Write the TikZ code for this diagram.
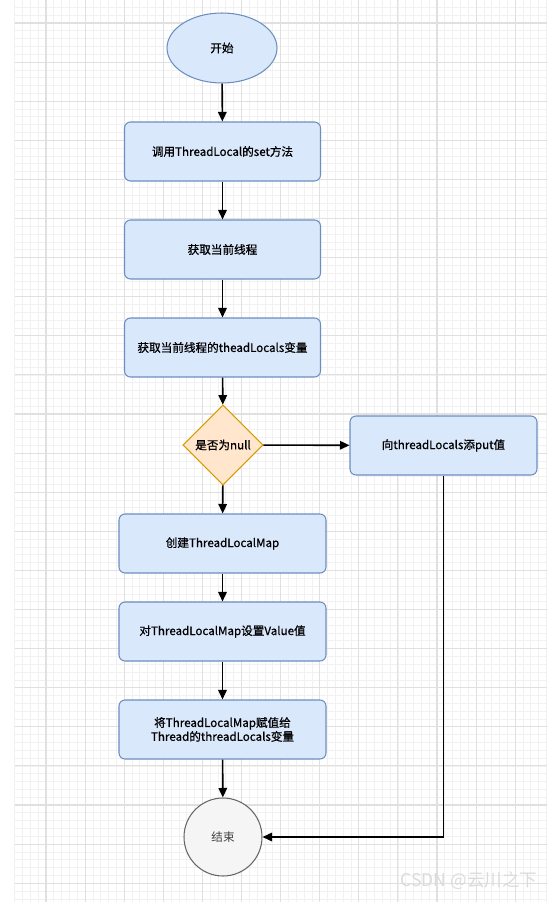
\documentclass[tikz,border=0pt]{standalone}
\usepackage{fontspec}
\setmainfont{Noto Sans CJK SC}
\newfontfamily\boxfont[FakeBold=0.8]{Noto Sans CJK SC}
\usetikzlibrary{shapes.geometric,arrows.meta}

\definecolor{boxfill}{HTML}{DAE8FC}
\definecolor{boxline}{HTML}{6C8EBF}
\definecolor{decfill}{HTML}{FFE6CC}
\definecolor{decline}{HTML}{D79B00}
\definecolor{endfill}{HTML}{F5F5F5}
\definecolor{endline}{HTML}{666666}
\definecolor{gridminor}{HTML}{F1F1F1}
\definecolor{gridmajor}{HTML}{E0E0E0}

\tikzset{
	flowtext/.style={font=\boxfont\fontsize{6.6pt}{7.9pt}\selectfont, align=center, text=black},
	proc/.style={flowtext, rectangle, rounded corners=0.12cm, draw=boxline, fill=boxfill, line width=0.6pt, minimum height=1.18cm},
	startnode/.style={flowtext, ellipse, draw=boxline, fill=boxfill, line width=0.6pt, minimum width=2.2cm, minimum height=1.4cm, inner sep=0pt},
	decide/.style={flowtext, diamond, draw=decline, fill=decfill, line width=0.6pt, minimum width=1.6cm, minimum height=1.6cm, inner sep=0pt},
	endnode/.style={circle, draw=endline, fill=endfill, line width=0.6pt, minimum size=1.56cm, text=black!75, font=\fontsize{6.6pt}{7.9pt}\selectfont},
	flow/.style={-{Triangle[length=0.19cm,width=0.17cm]}, line width=0.9pt},
}

\begin{document}
\begin{tikzpicture}[x=0.02cm, y=-0.02cm]
			\useasboundingbox (0,0) rectangle (560,902);
			\fill[white] (0,0) rectangle (560,902);
			
			% background grid
			\foreach \i in {0,...,68}
				\draw[gridminor, line width=0.4pt] ({14.7+7.82*\i},0) -- ({14.7+7.82*\i},902);
			\foreach \j in {0,...,114}
				\draw[gridminor, line width=0.4pt] (14.7,{7.36+7.82*\j}) -- (547,{7.36+7.82*\j});
			\foreach \i in {0,...,12}
				\draw[gridmajor, line width=0.6pt] ({46+39.1*\i},0) -- ({46+39.1*\i},902);
			\foreach \j in {0,...,22}
				\draw[gridmajor, line width=0.6pt] (14.7,{23+39.1*\j}) -- (547,{23+39.1*\j});
			
			% flow nodes
			\node[startnode] (start) at (222,48) {开始};
			\node[proc, minimum width=3.92cm] (callset) at (222.5,151.5) {调用ThreadLocal的set方法};
			\node[proc, minimum width=3.92cm] (getthread) at (222.5,249.5) {获取当前线程};
			\node[proc, minimum width=3.92cm] (getlocals) at (222.5,347.5) {获取当前线程的theadLocals变量};
			\node[decide] (isnull) at (223,445) {是否为null};
			\node[proc, minimum width=3.74cm] (putvalue) at (443.5,445.5) {向threadLocals添put值};
			\node[proc, minimum width=4.14cm] (createmap) at (222.5,543.5) {创建ThreadLocalMap};
			\node[proc, minimum width=4.14cm] (setvalue) at (222.5,631.5) {对ThreadLocalMap设置Value值};
			\node[proc, minimum width=4.14cm] (assignmap) at (222.5,729.5) {将ThreadLocalMap赋值给\\Thread的threadLocals变量};
			\node[endnode] (finish) at (223,837) {结束};
			
			% connectors
			\draw[flow] (start) -- (callset);
			\draw[flow] (callset) -- (getthread);
			\draw[flow] (getthread) -- (getlocals);
			\draw[flow] (getlocals) -- (isnull);
			\draw[flow] (isnull) -- (putvalue);
			\draw[flow] (isnull) -- (createmap);
			\draw[flow] (createmap) -- (setvalue);
			\draw[flow] (setvalue) -- (assignmap);
			\draw[flow] (assignmap) -- (finish);
			\draw[flow] (putvalue.south) |- (finish.east);
			
			% watermark
			\node[font=\fontsize{10pt}{12pt}\selectfont, text=black!14] (mark) at (469,881) {CSDN @云川之下};
\end{tikzpicture}
\end{document}
